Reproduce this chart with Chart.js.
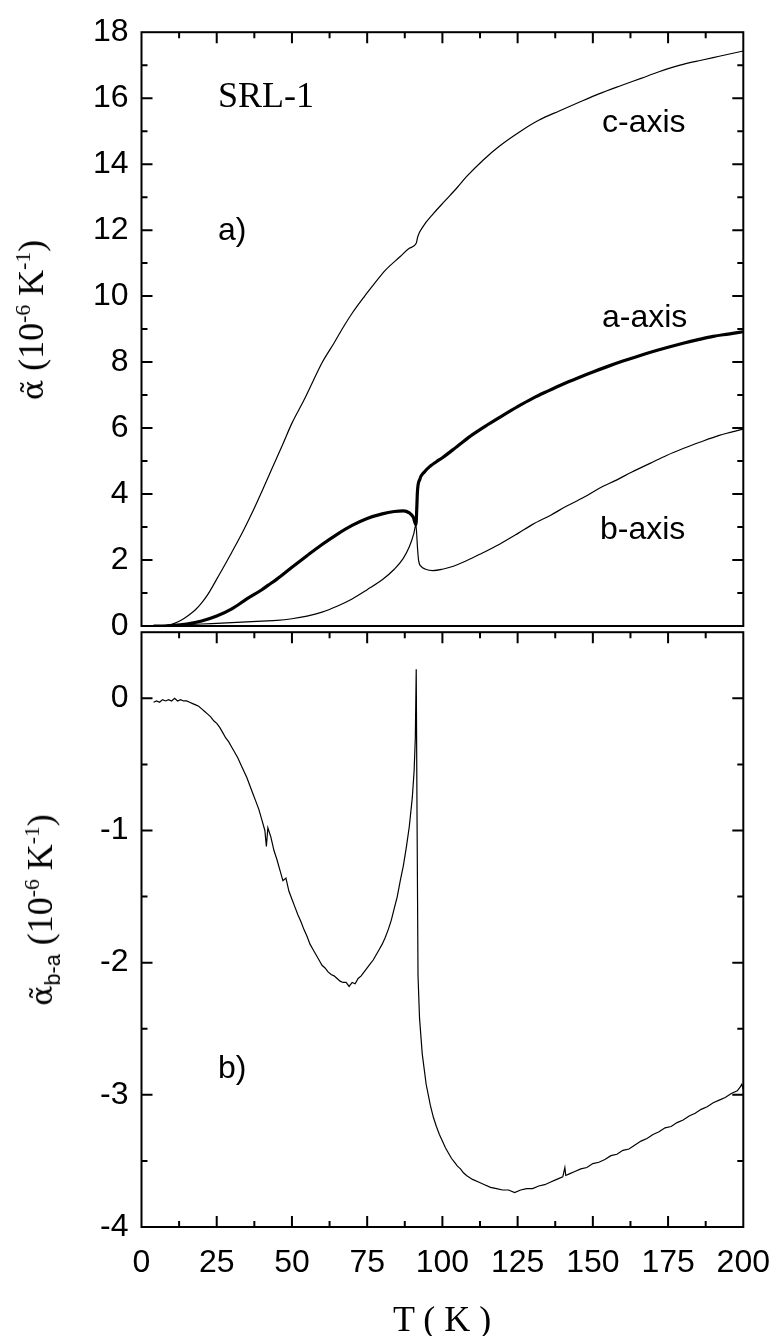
<!DOCTYPE html>
<html>
<head>
<meta charset="utf-8">
<script src="https://cdn.jsdelivr.net/npm/chart.js@4.4.1/dist/chart.umd.min.js"></script>
<style>
  body { margin: 0; background: #fff; width: 777px; height: 1336px; position: relative; overflow: hidden; }
  canvas { position: absolute; left: 0; }
  .t { position: absolute; white-space: nowrap; line-height: 1; color: #000; }
  .sans { font-family: "Liberation Sans", Arial, sans-serif; font-size: 32px; }
  .serif { font-family: "Liberation Serif", "Times New Roman", serif; font-size: 36px; }
  .rot { transform: translate(-50%, -50%) rotate(-90deg); }
  .alpha { font-family: "DejaVu Serif", serif; font-size: 30px; }
  sup, sub { line-height: 0; font-size: 60%; }
  sub.s { font-family: "Liberation Sans", Arial, sans-serif; }
</style>
</head>
<body>
<canvas id="topChart" width="777" height="660" style="top:0"></canvas>
<canvas id="botChart" width="777" height="736" style="top:600px"></canvas>

<div class="t serif" style="left:218px;top:77px">SRL-1</div>
<div class="t sans" style="left:218px;top:213px">a)</div>
<div class="t sans" style="left:602px;top:105px">c-axis</div>
<div class="t sans" style="left:602px;top:300px">a-axis</div>
<div class="t sans" style="left:600px;top:512px">b-axis</div>
<div class="t sans" style="left:218px;top:1051px">b)</div>
<div class="t serif" style="left:393px;top:1301px">T ( K )</div>
<div class="t serif rot" style="left:31px;top:320px"><span class="alpha">α̃</span> (10<sup>-6</sup> K<sup>-1</sup>)</div>
<div class="t serif rot" style="left:40px;top:910px"><span class="alpha">α̃</span><sub class="s">b-a</sub> (10<sup>-6</sup> K<sup>-1</sup>)</div>

<script>
'use strict';

// temperatures (K) and expansion values (10^-6 K^-1)
const cTemps = [4, 8, 10, 12, 14, 16, 18, 20, 22, 25, 28, 31, 34, 37, 40, 43, 47, 50, 54, 57, 60, 64, 67, 70, 74, 77, 81, 86, 89, 91.3, 91.8, 93.5, 97, 101, 105, 108, 113.5, 119, 126, 132, 139, 146, 152, 159, 166, 172, 179, 186, 192, 200];
const cAlpha = [0, 0.02, 0.05, 0.12, 0.22, 0.35, 0.5, 0.7, 0.95, 1.42, 1.9, 2.4, 2.92, 3.48, 4.08, 4.7, 5.52, 6.15, 6.85, 7.42, 7.98, 8.58, 9.05, 9.48, 9.98, 10.33, 10.78, 11.2, 11.45, 11.6, 11.8, 12.1, 12.5, 12.9, 13.3, 13.62, 14.12, 14.55, 15.0, 15.33, 15.62, 15.9, 16.13, 16.37, 16.6, 16.8, 17.0, 17.15, 17.27, 17.43];

const aTemps = [4, 8, 10, 15, 20, 25, 30, 35, 40, 42, 45, 50, 55, 60, 65, 70, 75, 80, 84, 87, 89, 90.3, 91.2, 91.5, 91.7, 92.5, 94, 96, 98, 100, 105, 110, 115, 120, 125, 130, 135, 140, 145, 150, 155, 160, 165, 170, 175, 180, 185, 190, 195, 200];
const aAlpha = [0, 0, 0.01, 0.06, 0.15, 0.3, 0.52, 0.82, 1.1, 1.23, 1.42, 1.78, 2.13, 2.47, 2.78, 3.05, 3.26, 3.4, 3.47, 3.49, 3.43, 3.3, 3.07, 3.6, 4.07, 4.45, 4.67, 4.85, 4.98, 5.1, 5.45, 5.8, 6.1, 6.38, 6.65, 6.9, 7.12, 7.33, 7.52, 7.7, 7.87, 8.03, 8.18, 8.32, 8.45, 8.57, 8.68, 8.78, 8.85, 8.92];

const bTemps = [4, 10, 20, 30, 40, 45, 50, 55, 60, 65, 70, 75, 80, 84, 87, 89, 90.5, 91.2, 91.7, 92.1, 93, 94.2, 96.9, 100, 102.5, 108, 113, 119, 125, 130, 136, 141, 147, 152, 158, 163, 169, 174.5, 180, 185.5, 192, 200];
const bAlpha = [0, 0.02, 0.06, 0.1, 0.15, 0.17, 0.22, 0.3, 0.42, 0.6, 0.82, 1.1, 1.4, 1.72, 2.05, 2.4, 2.8, 3.07, 2.4, 1.98, 1.8, 1.73, 1.68, 1.72, 1.78, 1.98, 2.2, 2.48, 2.8, 3.08, 3.36, 3.62, 3.9, 4.17, 4.43, 4.67, 4.93, 5.17, 5.38, 5.57, 5.78, 5.97];

const diffTemps = [4, 5, 6, 7, 8, 9, 10, 11, 12, 13, 14, 15, 16, 17, 18, 19, 20, 21, 22, 23, 24, 25, 26, 27, 28, 29, 30, 31, 32, 33, 34, 35, 36, 37, 38, 39, 40, 41, 41.5, 42, 43, 44, 45, 46, 47, 48, 49, 50, 51, 52, 53, 54, 55, 56, 57, 58, 59, 60, 61, 62, 63, 64, 65, 66, 67, 68, 69, 70, 71, 72, 73, 74, 75, 76, 77, 78, 79, 80, 81, 82, 83, 84, 85, 86, 87, 88, 89, 90, 90.6, 91, 91.3, 91.6, 91.9, 92.4, 93.3, 94.6, 96, 97, 98, 99, 100, 101, 102, 103, 104, 105, 106, 107, 108, 110, 112, 114, 116, 118, 120, 122, 124, 126, 128, 130, 132, 134, 136, 138, 140, 140.7, 141, 142, 144, 146, 148, 150, 152, 154, 156, 158, 160, 162, 164, 166, 168, 170, 172, 174, 176, 178, 180, 182, 184, 186, 188, 190, 192, 194, 196, 198, 199, 199.5, 200];
const diffAlpha = [-0.03, -0.02, -0.03, -0.01, -0.02, -0.01, -0.02, 0.0, -0.02, -0.01, -0.02, -0.02, -0.03, -0.04, -0.05, -0.06, -0.08, -0.1, -0.12, -0.14, -0.17, -0.19, -0.22, -0.26, -0.3, -0.33, -0.37, -0.41, -0.45, -0.5, -0.55, -0.6, -0.66, -0.72, -0.78, -0.84, -0.92, -1.0, -1.12, -0.98, -1.05, -1.15, -1.22, -1.3, -1.38, -1.36, -1.46, -1.52, -1.58, -1.64, -1.69, -1.75, -1.8, -1.86, -1.9, -1.94, -1.98, -2.02, -2.04, -2.07, -2.09, -2.1, -2.12, -2.14, -2.15, -2.15, -2.18, -2.15, -2.16, -2.12, -2.1, -2.07, -2.04, -2.01, -1.98, -1.94, -1.9, -1.86, -1.81, -1.75, -1.68, -1.59, -1.5, -1.38, -1.27, -1.13, -0.97, -0.75, -0.55, -0.3, 0.22, -1.0, -2.1, -2.42, -2.69, -2.92, -3.08, -3.17, -3.24, -3.3, -3.35, -3.4, -3.44, -3.48, -3.51, -3.54, -3.56, -3.59, -3.61, -3.64, -3.66, -3.68, -3.7, -3.71, -3.72, -3.72, -3.74, -3.72, -3.71, -3.71, -3.69, -3.68, -3.66, -3.64, -3.62, -3.55, -3.61, -3.6, -3.58, -3.56, -3.55, -3.52, -3.51, -3.49, -3.46, -3.45, -3.42, -3.41, -3.38, -3.35, -3.33, -3.3, -3.28, -3.25, -3.24, -3.21, -3.19, -3.16, -3.14, -3.11, -3.09, -3.06, -3.04, -3.02, -2.99, -2.97, -2.94, -2.92, -2.96, -2.87];

const xTicks = [0, 25, 50, 75, 100, 125, 150, 175, 200];
const topYTicks = [0, 2, 4, 6, 8, 10, 12, 14, 16, 18];
const botYTicks = [-4, -3, -2, -1, 0];

const SANS = '"Liberation Sans", Arial, sans-serif';

function toPoints(xs, ys) {
  return xs.map((x, i) => ({ x: x, y: ys[i] }));
}

// closed frame with inward ticks on the chosen sides
const frameTicks = {
  id: 'frameTicks',
  afterDatasetsDraw(chart, args, opts) {
    const ctx = chart.ctx;
    const a = chart.chartArea;
    const xs = chart.scales.x;
    const ys = chart.scales.y;
    ctx.save();
    ctx.strokeStyle = '#000';
    ctx.lineWidth = 2;
    ctx.strokeRect(a.left, a.top, a.right - a.left, a.bottom - a.top);
    ctx.beginPath();
    for (let t = 12.5; t < 200; t += 12.5) {
      const px = xs.getPixelForValue(t);
      const len = t % 25 === 0 ? 11 : 6;
      if (opts.top) { ctx.moveTo(px, a.top); ctx.lineTo(px, a.top + len); }
      if (opts.bottom) { ctx.moveTo(px, a.bottom); ctx.lineTo(px, a.bottom - len); }
    }
    for (let v = ys.min; v <= ys.max + 1e-9; v += opts.yStep) {
      const py = ys.getPixelForValue(v);
      if (Math.abs(py - a.top) < 1 || Math.abs(py - a.bottom) < 1) continue;
      const q = v / opts.yMajor;
      const len = Math.abs(q - Math.round(q)) < 1e-6 ? 11 : 6;
      ctx.moveTo(a.left, py); ctx.lineTo(a.left + len, py);
      ctx.moveTo(a.right, py); ctx.lineTo(a.right - len, py);
    }
    ctx.stroke();
    ctx.restore();
  }
};

const tickFont = { family: SANS, size: 32 };

function lineSet(xs, ys, width, smooth) {
  return {
    data: toPoints(xs, ys),
    borderColor: '#000',
    borderWidth: width,
    pointRadius: 0,
    fill: false,
    tension: smooth ? 0.4 : 0,
    cubicInterpolationMode: smooth ? 'monotone' : 'default'
  };
}

new Chart(document.getElementById('topChart'), {
  type: 'line',
  data: {
    datasets: [
      lineSet(cTemps, cAlpha, 1.2, true),
      lineSet(aTemps, aAlpha, 3.2, true),
      lineSet(bTemps, bAlpha, 1.2, true)
    ]
  },
  options: {
    responsive: false,
    animation: false,
    layout: { padding: { left: 0, top: 25, right: 33.7, bottom: 34 } },
    plugins: { legend: { display: false }, tooltip: { enabled: false }, frameTicks: { top: true, bottom: false, yStep: 1, yMajor: 2 } },
    scales: {
      x: { type: 'linear', min: 0, max: 200, display: false },
      y: {
        type: 'linear', min: 0, max: 18,
        afterBuildTicks(s) { s.ticks = topYTicks.map(v => ({ value: v })); },
        ticks: { font: tickFont, color: '#000', padding: 13, callback: v => String(v) },
        grid: { display: false, drawTicks: false },
        border: { display: false },
        afterFit(s) { s.width = 141.5; }
      }
    }
  },
  plugins: [frameTicks]
});

new Chart(document.getElementById('botChart'), {
  type: 'line',
  data: {
    datasets: [lineSet(diffTemps, diffAlpha, 1.2, false)]
  },
  options: {
    responsive: false,
    animation: false,
    layout: { padding: { left: 0, top: 26, right: 33.7, bottom: 0 } },
    plugins: { legend: { display: false }, tooltip: { enabled: false }, frameTicks: { top: true, bottom: true, yStep: 0.5, yMajor: 1 } },
    scales: {
      x: {
        type: 'linear', min: 0, max: 200,
        afterBuildTicks(s) { s.ticks = xTicks.map(v => ({ value: v })); },
        ticks: { font: tickFont, color: '#000', padding: 17, maxRotation: 0, autoSkip: false, callback: v => String(v) },
        grid: { display: false, drawTicks: false },
        border: { display: false },
        afterFit(s) { s.height = 109; s.paddingLeft = 0; s.paddingRight = 0; }
      },
      y: {
        type: 'linear', min: -4, max: 0.5,
        afterBuildTicks(s) { s.ticks = botYTicks.map(v => ({ value: v })); },
        ticks: { font: tickFont, color: '#000', padding: 13, callback: v => String(v) },
        grid: { display: false, drawTicks: false },
        border: { display: false },
        afterFit(s) { s.width = 141.5; }
      }
    }
  },
  plugins: [frameTicks]
});
</script>
</body>
</html>
